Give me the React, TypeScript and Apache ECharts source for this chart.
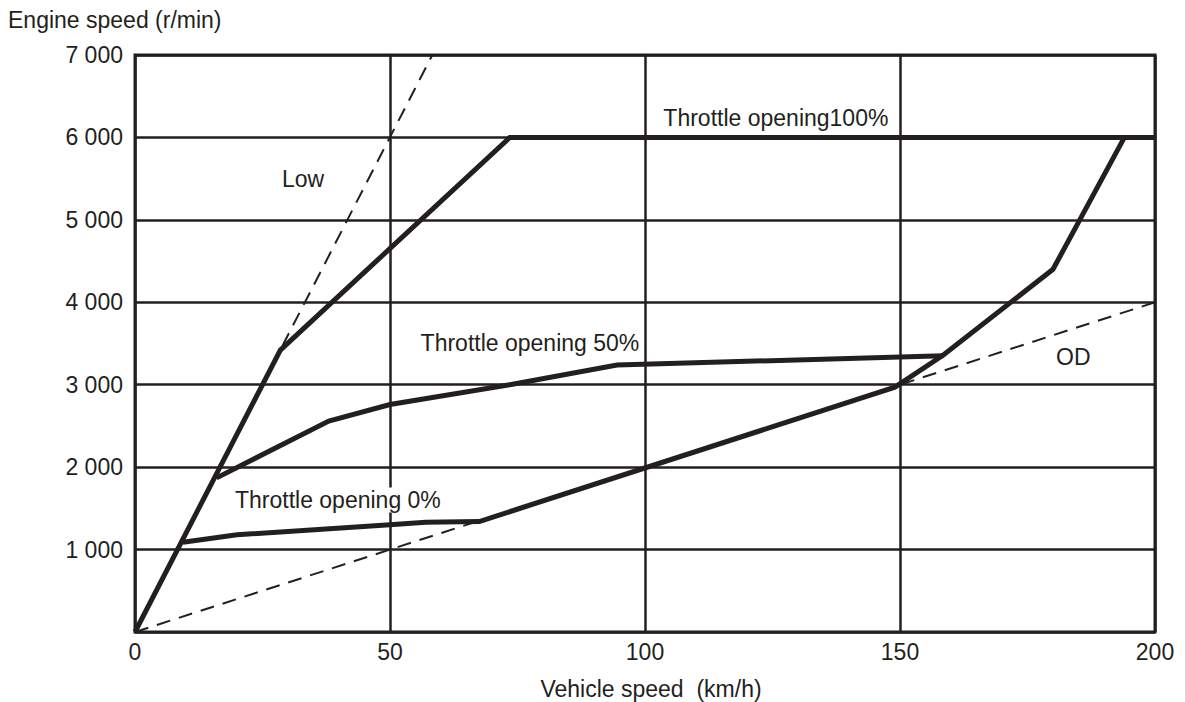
import React, { useEffect, useRef } from "react";
import * as echarts from "echarts";

const INK = "#231f20";
const FONT = "'Liberation Sans', Arial, Helvetica, sans-serif";

const xTicks = [0, 50, 100, 150, 200];
const yTicks = [1000, 2000, 3000, 4000, 5000, 6000, 7000];

// Gear lines (dashed)
const lowGear: [number, number][] = [[0, 0], [58.3, 7000]];
const odGear: [number, number][] = [[0, 0], [200, 4000]];

// Throttle opening 100% curve
const throttle100: [number, number][] = [[0, 0], [28.5, 3420], [73.5, 6000], [200, 6000]];
// Throttle opening 50% curve
const throttle50: [number, number][] = [[16, 1870], [38, 2560], [50, 2760], [73.5, 3000], [94.5, 3240], [158.5, 3350]];
// Throttle opening 0% curve (continuing to the upshift line)
const throttle0: [number, number][] = [[9.4, 1090], [20, 1180], [50, 1300], [57, 1330], [67.5, 1340], [149, 2970], [158.5, 3360], [180, 4400], [194, 6000]];

const labelTexts = ["Low", "Throttle opening100%", "Throttle opening 50%", "Throttle opening 0%", "OD"];
const labelPos: [number, number][] = [[28.8, 5490], [103.6, 6240], [56, 3510], [19.6, 1600], [180.6, 3340]];

export default function App() {
  const ref = useRef<HTMLDivElement>(null);
  useEffect(() => {
    if (!ref.current) return;
    const chart = echarts.init(ref.current, null, { renderer: "svg" });
    const solid = (data: [number, number][]) => ({
      type: "line",
      data,
      showSymbol: false,
      symbol: "none",
      lineStyle: { color: INK, width: 5, join: "miter" },
      z: 5,
    });
    const dashed = (data: [number, number][]) => ({
      type: "line",
      data,
      showSymbol: false,
      symbol: "none",
      lineStyle: { color: INK, width: 2, type: [14, 9] },
      z: 4,
    });
    chart.setOption({
      animation: false,
      backgroundColor: "#ffffff",
      grid: {
        left: 135,
        right: 30,
        top: 55,
        bottom: 70,
        show: true,
        borderColor: INK,
        borderWidth: 3,
        containLabel: false,
      },
      xAxis: {
        type: "value",
        min: 0,
        max: 200,
        interval: 50,
        axisLine: { show: false },
        axisTick: { show: false },
        axisLabel: {
          color: INK,
          fontFamily: FONT,
          fontSize: 23,
          margin: 8,
          formatter: (v: number) => (xTicks.includes(v) ? String(v) : ""),
        },
        splitLine: { show: true, lineStyle: { color: INK, width: 2.5 } },
      },
      yAxis: {
        type: "value",
        min: 0,
        max: 7000,
        interval: 1000,
        axisLine: { show: false },
        axisTick: { show: false },
        axisLabel: {
          color: INK,
          fontFamily: FONT,
          fontSize: 23,
          margin: 12,
          formatter: (v: number) =>
            yTicks.includes(v) ? `${Math.floor(v / 1000)} ${String(v % 1000).padStart(3, "0")}` : "",
        },
        splitLine: { show: true, lineStyle: { color: INK, width: 2.5 } },
      },
      graphic: [
        {
          type: "text",
          left: 8,
          top: 8,
          style: { text: "Engine speed (r/min)", fill: INK, font: `23px ${FONT}` },
        },
        {
          type: "text",
          x: 651,
          y: 689,
          style: {
            text: "Vehicle speed  (km/h)",
            fill: INK,
            font: `23px ${FONT}`,
            align: "center",
            verticalAlign: "middle",
          },
        },
      ],
      series: [
        dashed(lowGear),
        dashed(odGear),
        solid(throttle100),
        solid(throttle50),
        solid(throttle0),
        {
          type: "scatter",
          symbolSize: 0,
          z: 6,
          itemStyle: { opacity: 1, color: INK },
          data: labelPos.map((p, i) => ({ value: p, name: labelTexts[i] })),
          label: {
            show: true,
            position: "right",
            distance: 0,
            formatter: (p: any) => p.name,
            color: INK,
            opacity: 1,
            fontFamily: FONT,
            fontSize: 23,
            backgroundColor: "#ffffff",
            padding: [1, 0],
          },
        },
      ],
    });
    return () => chart.dispose();
  }, []);
  return (
    <div
      ref={ref}
      style={{ position: "absolute", left: 0, top: 0, width: 1185, height: 702 }}
    />
  );
}
